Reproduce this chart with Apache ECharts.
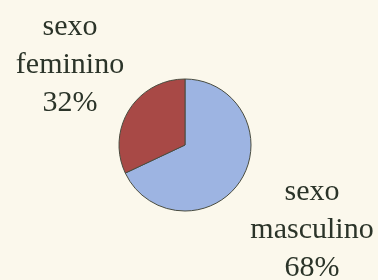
<!DOCTYPE html>
<html>
<head>
<meta charset="utf-8">
<script src="https://cdn.jsdelivr.net/npm/echarts@6/dist/echarts.min.js"></script>
<style>
  html, body { margin: 0; padding: 0; background: #fbf8ec; }
  #chart { width: 378px; height: 280px; }
</style>
</head>
<body>
<div id="chart"></div>
<script>
// dados do gráfico
var categorias = ['sexo masculino', 'sexo feminino'];
var valores = [68, 32];
var cores = ['#9db4e2', '#a84946'];

var chart = echarts.init(document.getElementById('chart'));

// posição de cada rótulo (centro do bloco de texto)
var posRotulo = [[312, 230], [70, 65]];

var option = {
    backgroundColor: '#fbf8ec',
    animation: false,
    series: [{
        type: 'pie',
        center: [185, 145],
        radius: 66,
        startAngle: 90,
        clockwise: true,
        itemStyle: {
            borderColor: '#4a4d40',
            borderWidth: 1
        },
        label: {
            show: true,
            formatter: function (p) {
                return p.name.replace(' ', '\n') + '\n' + p.value + '%';
            },
            fontFamily: 'Liberation Serif',
            fontSize: 30,
            lineHeight: 38,
            color: '#2b3429',
            align: 'center',
            width: 200,
            overflow: 'none'
        },
        labelLine: { show: false },
        labelLayout: function (params) {
            var p = posRotulo[params.dataIndex];
            return { x: p[0], y: p[1], align: 'center', verticalAlign: 'middle', width: 200 };
        },
        data: categorias.map(function (c, i) {
            return { name: c, value: valores[i], itemStyle: { color: cores[i] } };
        })
    }]
};
chart.setOption(option);
</script>
</body>
</html>
